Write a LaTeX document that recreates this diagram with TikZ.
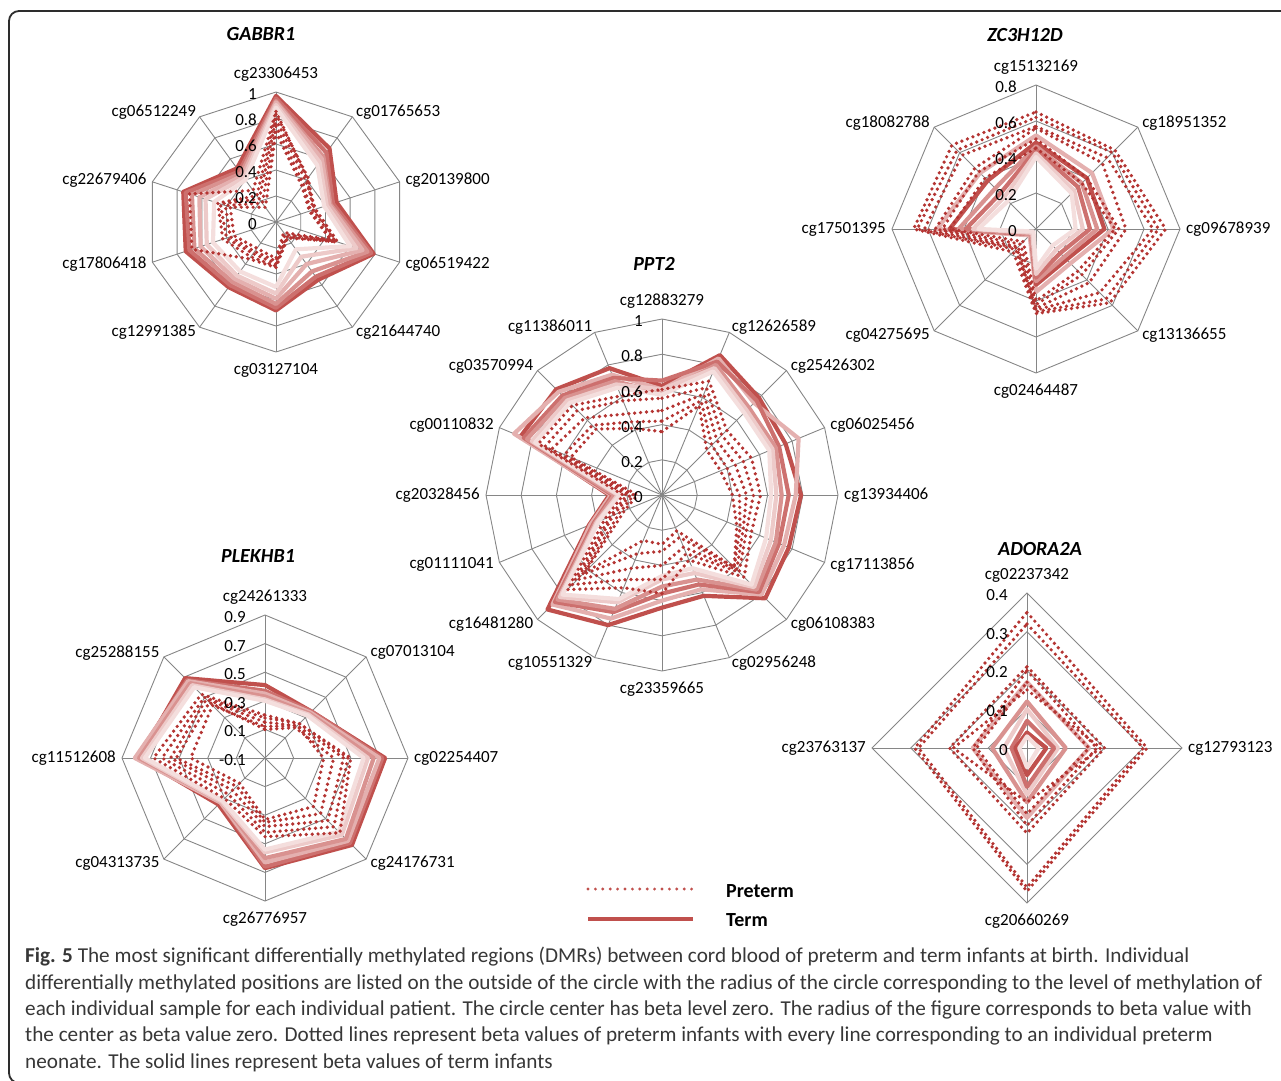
\documentclass[tikz,border=0pt]{standalone}
\usepackage{fontspec}
\setmainfont{Carlito}
\newfontfamily\capfont{Carlito}
\usepackage{tikz}
\usetikzlibrary{calc}
\definecolor{dotred}{RGB}{180,52,50}
\definecolor{legred}{RGB}{192,80,77}
\definecolor{termA}{RGB}{192,80,77}
\definecolor{termB}{RGB}{205,112,110}
\definecolor{termC}{RGB}{217,146,144}
\definecolor{termD}{RGB}{228,176,175}
\definecolor{termE}{RGB}{237,202,201}
\definecolor{termF}{RGB}{244,222,221}
\definecolor{gridgray}{RGB}{134,134,134}
\definecolor{captiongray}{RGB}{55,55,55}
\definecolor{framegray}{RGB}{45,45,45}
\tikzstyle{gridline} = [draw=gridgray, line width=0.9pt]
\tikzstyle{axlab} = [inner sep=0pt, font=\fontsize{17}{18}\selectfont]
\tikzstyle{scalelab} = [anchor=east, inner sep=0pt, font=\fontsize{17}{18}\selectfont]
\tikzstyle{charttitle} = [inner sep=0pt, font=\fontsize{20}{22}\selectfont\bfseries\itshape]
\tikzstyle{termline} = [line width=4.2pt, line join=round]
\tikzstyle{pretermline} = [dotred, line width=3.7pt, line cap=round, dash pattern=on 0pt off 5.9pt]
\tikzstyle{legdots} = [legred, line width=3.2pt, line cap=round, dash pattern=on 0pt off 7.4pt]
\tikzstyle{legsolid} = [legred, line width=4.2pt]
\tikzstyle{legtext} = [anchor=west, inner sep=0pt, font=\fontsize{20}{22}\selectfont\bfseries]
\tikzstyle{frameline} = [draw=framegray, line width=1.8pt, rounded corners=10pt]

% web of one chart: rings and spokes
\newcommand{\webgrid}{%
  \foreach \r in {1,...,\nring}
    \draw[gridline] (-90:\r*\rad/\nring) \foreach \k in {1,...,\nax} { -- (-90+\k*360/\nax:\r*\rad/\nring) } -- cycle;
  \foreach \k in {1,...,\nax}
    \draw[gridline] (0,0) -- (-90+\k*360/\nax:\rad);
}
% one sample as closed polygon
\newcommand{\webline}[2]{%
  \foreach \v [count=\k from 0] in {#2}
    \coordinate (w\k) at (-90+\k*360/\nax:{(\v-(\vlo))/(\vhi-(\vlo))*\rad});
  \pgfmathtruncatemacro{\lastk}{\nax-1}
  \draw[#1] (w0) \foreach \k in {1,...,\lastk} { -- (w\k) } -- cycle;
}
% CpG names round the web
\newcommand{\axislabels}[2]{%
  \foreach \lab [count=\k from 0] in {#2} {
    \pgfmathsetmacro{\axang}{\k*360/\nax}
    \ifdim \axang pt=0pt \def\axanc{south}\def\axgap{10}
    \else\ifdim \axang pt=180pt \def\axanc{north}\def\axgap{11}
    \else\ifdim \axang pt<180pt \def\axanc{west}\def\axgap{6}
    \else \def\axanc{east}\def\axgap{6}\fi\fi\fi
    \node[axlab, anchor=\axanc] (#1-\k) at (-90+\axang:\rad+\axgap) {\lab};
  }
}
% beta values along the top spoke
\newcommand{\scalelabels}[2]{%
  \foreach \t [count=\k from 0] in {#2}
    \node[scalelab] (#1-s\k) at (-19,{-\k*\rad/\nring+2}) {\t};
}

\begin{document}
\begin{tikzpicture}[x=1pt, y=-1pt]
\useasboundingbox (0,0) rectangle (1281,1080);
\draw[frameline] (9,1083) rectangle (1310,11);

% GABBR1
\begin{scope}[shift={(276,222)}]
\def\nax{10}\def\rad{130}\def\nring{5}\def\vlo{0}\def\vhi{1}
\webgrid
\webline{termline, termA}{0.97,0.70,0.49,0.79,0.55,0.68,0.62,0.73,0.75,0.51}
\webline{termline, termB}{0.95,0.66,0.46,0.77,0.52,0.66,0.60,0.70,0.73,0.48}
\webline{termline, termC}{0.93,0.62,0.44,0.74,0.47,0.63,0.57,0.66,0.68,0.46}
\webline{termline, termD}{0.92,0.60,0.43,0.70,0.40,0.59,0.54,0.61,0.62,0.44}
\webline{termline, termE}{0.90,0.57,0.41,0.65,0.33,0.55,0.51,0.56,0.57,0.42}
\webline{termline, termF}{0.88,0.54,0.39,0.60,0.26,0.50,0.47,0.51,0.50,0.40}
\webline{pretermline}{0.85,0.41,0.30,0.48,0.15,0.35,0.35,0.68,0.70,0.30}
\webline{pretermline}{0.83,0.42,0.31,0.49,0.15,0.34,0.33,0.43,0.47,0.25}
\webline{pretermline}{0.79,0.39,0.32,0.50,0.14,0.32,0.30,0.40,0.45,0.22}
\webline{pretermline}{0.74,0.36,0.28,0.45,0.12,0.30,0.28,0.37,0.41,0.18}
\webline{pretermline}{0.69,0.34,0.27,0.44,0.10,0.28,0.25,0.34,0.37,0.14}
\axislabels{gab}{cg23306453,cg01765653,cg20139800,cg06519422,cg21644740,cg03127104,cg12991385,cg17806418,cg22679406,cg06512249}
\scalelabels{gab}{0,0.2,0.4,0.6,0.8,1}
\end{scope}
\node[charttitle] (gab-title) at (261,34) {GABBR1};

% ZC3H12D
\begin{scope}[shift={(1036,229)}]
\def\nax{8}\def\rad{144}\def\nring{4}\def\vlo{0}\def\vhi{0.8}
\webgrid
\webline{termline, termD}{0.52,0.44,0.43,0.27,0.35,0.05,0.55,0.44}
\webline{termline, termA}{0.48,0.40,0.38,0.24,0.31,0.04,0.48,0.38}
\webline{termline, termC}{0.46,0.36,0.34,0.22,0.29,0.04,0.43,0.32}
\webline{termline, termB}{0.44,0.33,0.30,0.19,0.27,0.03,0.39,0.28}
\webline{termline, termE}{0.42,0.30,0.26,0.16,0.25,0.03,0.35,0.25}
\webline{termline, termF}{0.40,0.28,0.22,0.13,0.22,0.02,0.32,0.22}
\webline{pretermline}{0.65,0.62,0.72,0.58,0.47,0.18,0.68,0.66}
\webline{pretermline}{0.62,0.60,0.68,0.55,0.46,0.16,0.66,0.62}
\webline{pretermline}{0.57,0.56,0.65,0.50,0.45,0.15,0.62,0.58}
\webline{pretermline}{0.56,0.52,0.50,0.42,0.44,0.14,0.56,0.48}
\webline{pretermline}{0.50,0.40,0.46,0.36,0.42,0.12,0.52,0.45}
\webline{pretermline}{0.45,0.36,0.44,0.33,0.40,0.10,0.48,0.40}
\axislabels{zc}{cg15132169,cg18951352,cg09678939,cg13136655,cg02464487,cg04275695,cg17501395,cg18082788}
\scalelabels{zc}{0,0.2,0.4,0.6,0.8}
\end{scope}
\node[charttitle] (zc-title) at (1025,35) {ZC3H12D};

% PPT2
\begin{scope}[shift={(662,495)}]
\def\nax{16}\def\rad{176}\def\nring{5}\def\vlo{0}\def\vhi{1}
\webgrid
\webline{termline, termA}{0.62,0.86,0.78,0.76,0.79,0.78,0.83,0.62,0.64,0.80,0.92,0.45,0.30,0.87,0.85,0.78}
\webline{termline, termD}{0.60,0.84,0.74,0.84,0.76,0.75,0.80,0.58,0.60,0.76,0.88,0.44,0.29,0.91,0.83,0.74}
\webline{termline, termB}{0.65,0.82,0.76,0.72,0.72,0.72,0.78,0.55,0.56,0.72,0.86,0.42,0.28,0.85,0.80,0.72}
\webline{termline, termC}{0.58,0.80,0.70,0.70,0.68,0.70,0.76,0.52,0.52,0.70,0.84,0.41,0.27,0.83,0.78,0.70}
\webline{termline, termE}{0.60,0.78,0.68,0.68,0.65,0.67,0.74,0.48,0.48,0.66,0.82,0.40,0.25,0.80,0.76,0.68}
\webline{termline, termF}{0.57,0.76,0.66,0.66,0.62,0.64,0.72,0.45,0.46,0.64,0.80,0.39,0.24,0.78,0.74,0.66}
\webline{pretermline}{0.60,0.70,0.52,0.55,0.56,0.55,0.66,0.40,0.56,0.57,0.76,0.35,0.22,0.76,0.72,0.61}
\webline{pretermline}{0.55,0.66,0.48,0.50,0.52,0.52,0.62,0.36,0.48,0.52,0.72,0.32,0.20,0.72,0.68,0.58}
\webline{pretermline}{0.48,0.62,0.44,0.45,0.48,0.50,0.60,0.32,0.40,0.45,0.68,0.30,0.18,0.68,0.62,0.50}
\webline{pretermline}{0.42,0.58,0.40,0.40,0.44,0.48,0.58,0.26,0.32,0.36,0.64,0.26,0.16,0.60,0.56,0.45}
\webline{pretermline}{0.36,0.55,0.36,0.36,0.40,0.46,0.58,0.22,0.28,0.28,0.62,0.23,0.14,0.56,0.53,0.41}
\axislabels{ppt}{cg12883279,cg12626589,cg25426302,cg06025456,cg13934406,cg17113856,cg06108383,cg02956248,cg23359665,cg10551329,cg16481280,cg01111041,cg20328456,cg00110832,cg03570994,cg11386011}
\scalelabels{ppt}{0,0.2,0.4,0.6,0.8,1}
\end{scope}
\node[charttitle] (ppt-title) at (654,264) {PPT2};

% PLEKHB1
\begin{scope}[shift={(265,758)}]
\def\nax{8}\def\rad{143}\def\nring{5}\def\vlo{-0.1}\def\vhi{0.9}
\webgrid
\webline{termline, termA}{0.41,0.36,0.74,0.76,0.67,0.36,0.78,0.69}
\webline{termline, termB}{0.37,0.36,0.72,0.74,0.66,0.34,0.80,0.67}
\webline{termline, termD}{0.35,0.35,0.70,0.72,0.63,0.34,0.81,0.66}
\webline{termline, termC}{0.33,0.34,0.66,0.70,0.60,0.33,0.78,0.64}
\webline{termline, termE}{0.31,0.33,0.62,0.66,0.56,0.33,0.76,0.62}
\webline{termline, termF}{0.30,0.32,0.59,0.63,0.54,0.32,0.74,0.60}
\webline{pretermline}{0.20,0.24,0.50,0.64,0.45,0.30,0.68,0.53}
\webline{pretermline}{0.18,0.24,0.48,0.58,0.42,0.26,0.62,0.50}
\webline{pretermline}{0.15,0.22,0.45,0.52,0.38,0.22,0.56,0.48}
\webline{pretermline}{0.10,0.20,0.38,0.45,0.35,0.18,0.52,0.45}
\webline{pretermline}{0.12,0.22,0.31,0.38,0.33,0.15,0.42,0.42}
\axislabels{plk}{cg24261333,cg07013104,cg02254407,cg24176731,cg26776957,cg04313735,cg11512608,cg25288155}
\scalelabels{plk}{-0.1,0.1,0.3,0.5,0.7,0.9}
\end{scope}
\node[charttitle] (plk-title) at (258,556) {PLEKHB1};

% ADORA2A
\begin{scope}[shift={(1027,748)}]
\def\nax{4}\def\rad{155}\def\nring{4}\def\vlo{0}\def\vhi{0.4}
\webgrid
\webline{termline, termD}{0.17,0.16,0.18,0.14}
\webline{termline, termC}{0.12,0.10,0.14,0.09}
\webline{termline, termE}{0.10,0.08,0.12,0.06}
\webline{termline, termB}{0.07,0.07,0.10,0.04}
\webline{termline, termA}{0.04,0.05,0.07,0.03}
\webline{termline, termF}{0.03,0.03,0.05,0.02}
\webline{pretermline}{0.35,0.31,0.37,0.29}
\webline{pretermline}{0.32,0.30,0.36,0.28}
\webline{pretermline}{0.21,0.20,0.22,0.20}
\webline{pretermline}{0.20,0.18,0.20,0.14}
\webline{pretermline}{0.17,0.16,0.17,0.13}
\webline{pretermline}{0.15,0.19,0.14,0.19}
\axislabels{ado}{cg02237342,cg12793123,cg20660269,cg23763137}
\scalelabels{ado}{0,0.1,0.2,0.3,0.4}
\end{scope}
\node[charttitle] (ado-title) at (1040,549) {ADORA2A};

% legend
\coordinate (pre-a) at (588,889);
\coordinate (pre-b) at (693,889);
\coordinate (term-a) at (588,919);
\coordinate (term-b) at (693,919);
\draw[legdots] (pre-a) -- (pre-b);
\draw[legsolid] (term-a) -- (term-b);
\node[legtext] (pre-t) at (726,891) {Preterm};
\node[legtext] (term-t) at (726,920) {Term};

% caption
\node[anchor=north west, inner sep=0pt, align=left, text=captiongray,
      font=\capfont\fontsize{21.2}{26.4}\selectfont] (caption) at (25,947)
 {\textbf{Fig. 5} The most significant differentially methylated regions (DMRs) between cord blood of preterm and term infants at birth. Individual\\
  differentially methylated positions are listed on the outside of the circle with the radius of the circle corresponding to the level of methylation of\\
  each individual sample for each individual patient. The circle center has beta level zero. The radius of the figure corresponds to beta value with\\
  the center as beta value zero. Dotted lines represent beta values of preterm infants with every line corresponding to an individual preterm\\
  neonate. The solid lines represent beta values of term infants};
\end{tikzpicture}
\end{document}
